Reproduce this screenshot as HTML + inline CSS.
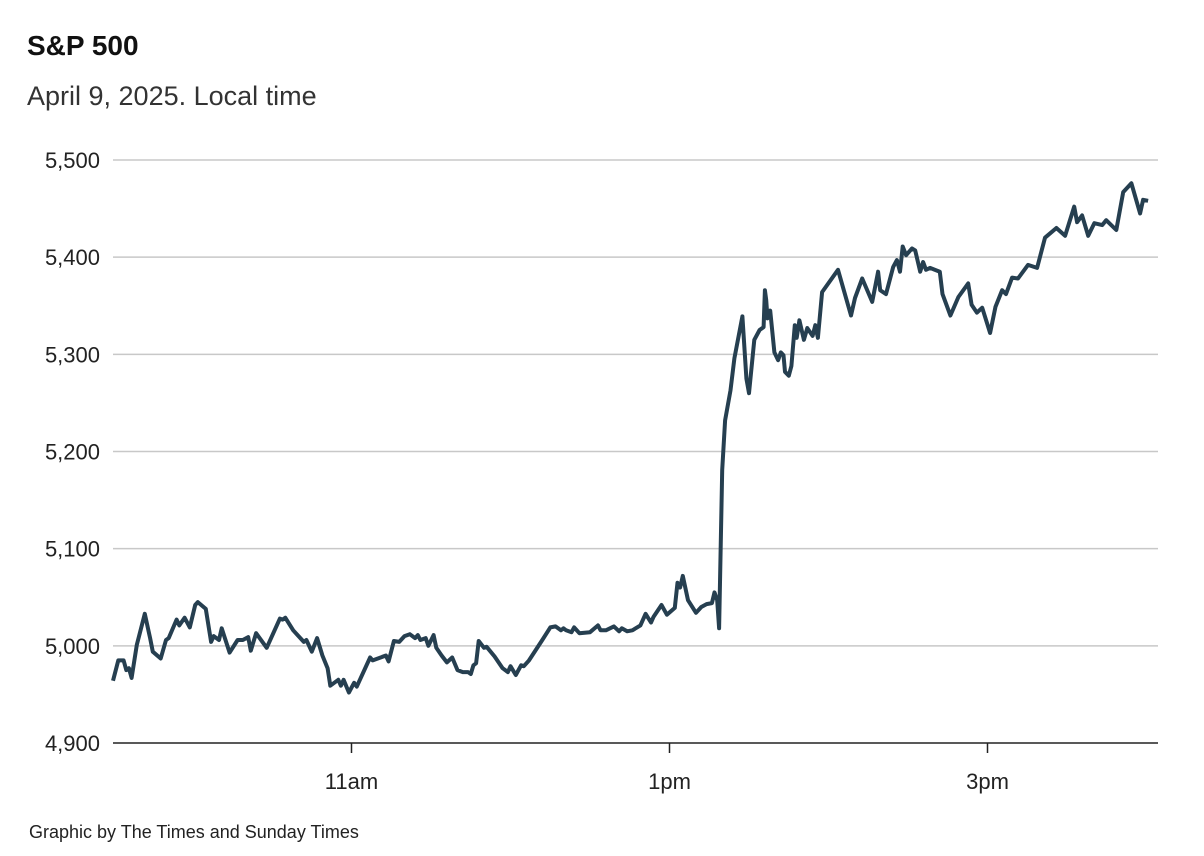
<!DOCTYPE html>
<html><head><meta charset="utf-8"><style>
body{margin:0;background:#fff;font-family:"Liberation Sans",sans-serif}
svg{display:block}
</style></head><body>
<svg width="1204" height="856" viewBox="0 0 1204 856">
<text x="27" y="55" font-size="28" font-weight="bold" fill="#111">S&amp;P 500</text>
<text x="27" y="105" font-size="27" fill="#333">April 9, 2025. Local time</text>
<g id="grid"></g>
<g id="yl"></g>
<g id="xl"></g>
<path id="line" fill="none" stroke="#263f50" stroke-width="4" stroke-linejoin="round"/>
<text x="29" y="838" font-size="18" fill="#222">Graphic by The Times and Sunday Times</text>
</svg>
<script>
const yTicks=[4900,5000,5100,5200,5300,5400,5500];
const yTickLabels=["4,900","5,000","5,100","5,200","5,300","5,400","5,500"];
const xTicks=[90,210,330];
const xTickLabels=["11am","1pm","3pm"];
const minutes=[0,2,4,5,6,7,9,12,14,15,18,20,21,24,25,27,29,31,32,35,37,38,40,41,44,47,49,51,52,54,58,63,64,65,68,72,73,75,77,79,81,82,85,86,87,89,91,92,97,98,103,104,106,108,110,112,114,115,116,118,119,121,122,124,126,128,130,132,134,135,136,137,138,140,141,144,147,149,150,152,154,155,157,162,165,167,169,170,171,173,174,176,180,183,184,186,189,191,192,194,196,199,201,203,204,207,209,212,213,214,215,217,220,222,224,226,227,228,228.7,229.9,231,233,234.5,237.5,239,240,242,244,245.5,246,246.5,247,248,249.6,251,252,253,253.6,255,256,257.3,258,259,260.7,262,264,265,266,267.6,273.6,278.5,280,282.7,286.5,288.7,289.5,291.7,294.4,295.8,297,298,299.3,301.5,302.7,304.6,305.7,306.8,308.3,312,313,316,319,322.7,324,326,328,331,333,335.5,337,339.3,341.5,345.3,348.7,351.7,356,359.3,362.7,363.8,365.7,368,370.3,373.3,374.8,378.6,381.2,384.3,387.6,388.7,390.6];
const prices=[4964,4985,4985,4975,4977,4967,5001,5033,5008,4994,4987,5006,5008,5027,5021,5029,5019,5042,5045,5038,5004,5010,5006,5018,4993,5006,5006,5009,4995,5013,4998,5028,5027,5029,5016,5004,5006,4994,5008,4990,4977,4959,4965,4959,4965,4952,4962,4958,4988,4985,4990,4984,5005,5004,5010,5012,5008,5011,5006,5008,5000,5011,4998,4990,4983,4988,4975,4973,4973,4971,4980,4982,5005,4998,4999,4989,4977,4973,4979,4970,4980,4979,4985,5006,5019,5020,5016,5018,5016,5014,5019,5013,5014,5021,5016,5016,5020,5015,5018,5015,5016,5021,5033,5024,5030,5042,5032,5039,5065,5060,5072,5047,5034,5040,5043,5044,5055,5047,5018,5181,5232,5263,5296,5339,5275,5260,5315,5325,5328,5366,5356,5337,5345,5302,5294,5302,5299,5282,5278,5288,5330,5317,5335,5315,5327,5319,5330,5317,5364,5387,5340,5358,5378,5354,5385,5366,5362,5390,5397,5385,5411,5402,5409,5407,5385,5395,5387,5389,5385,5362,5340,5359,5373,5351,5343,5348,5322,5349,5366,5362,5379,5378,5392,5389,5420,5430,5422,5452,5436,5443,5422,5435,5433,5438,5428,5467,5476,5445,5459,5458];
const NS="http://www.w3.org/2000/svg";
const X0=113,X1=1158;
function xs(m){return 113+m*159/60;}
function ys(v){return 743-(v-4900)*583/600;}
const grid=document.getElementById('grid'),yl=document.getElementById('yl'),xl=document.getElementById('xl');
yTicks.forEach((t,i)=>{
 const l=document.createElementNS(NS,'line');
 
 
 l.setAttribute('x1',X0);l.setAttribute('x2',X1);l.setAttribute('y1',ys(t));l.setAttribute('y2',ys(t));
 l.setAttribute('stroke',i===0?'#222':'#c8c8c8');l.setAttribute('stroke-width',i===0?1.5:1.5);
 grid.appendChild(l);
 const tx=document.createElementNS(NS,'text');
 
 
 tx.setAttribute('x',100);tx.setAttribute('y',ys(t)+8);tx.setAttribute('text-anchor','end');
 tx.setAttribute('font-size','22');tx.setAttribute('fill','#222');tx.textContent=yTickLabels[i];
 yl.appendChild(tx);
});
xTicks.forEach((m,i)=>{
 const l=document.createElementNS(NS,'line');
 
 
 l.setAttribute('x1',xs(m));l.setAttribute('x2',xs(m));l.setAttribute('y1',743);l.setAttribute('y2',753);
 l.setAttribute('stroke','#222');l.setAttribute('stroke-width',1.5);
 xl.appendChild(l);
 const tx=document.createElementNS(NS,'text');
 
 
 tx.setAttribute('x',xs(m));tx.setAttribute('y',789);tx.setAttribute('text-anchor','middle');
 tx.setAttribute('font-size','22');tx.setAttribute('fill','#222');tx.textContent=xTickLabels[i];
 xl.appendChild(tx);
});
document.getElementById('line').setAttribute('d',minutes.map((m,i)=>(i?'L':'M')+xs(m).toFixed(1)+','+ys(prices[i]).toFixed(1)).join(''));
</script>
</body></html>
